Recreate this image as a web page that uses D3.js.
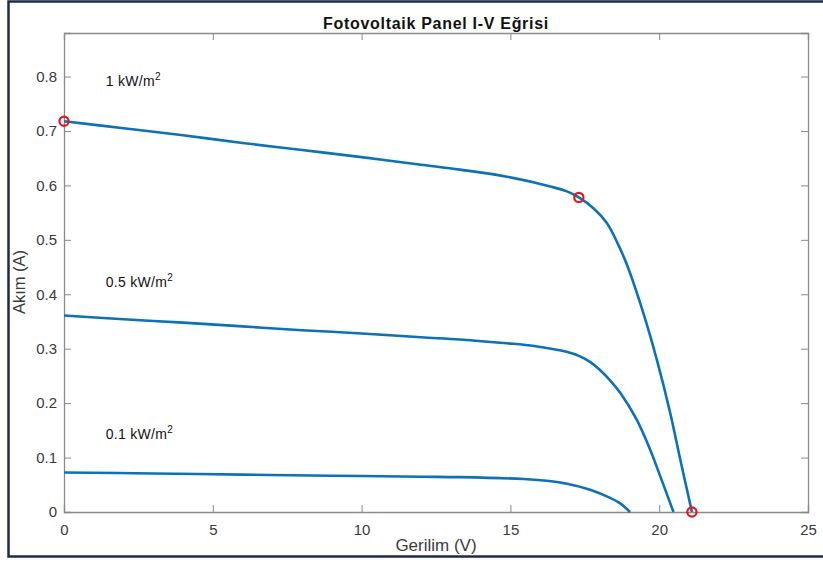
<!DOCTYPE html>
<html>
<head>
<meta charset="utf-8">
<script src="https://cdn.jsdelivr.net/npm/d3@7/dist/d3.min.js"></script>
<style>
  html, body { margin: 0; padding: 0; background: #fff; }
  svg { display: block; font-family: Arial, "Liberation Sans", Helvetica, sans-serif; }
</style>
</head>
<body>
<svg id="chart" width="823" height="562"></svg>
<script>
// I-V curves of a PV panel at three irradiance levels
const xTicks = [0, 5, 10, 15, 20, 25];
const yTicks = [0, 0.1, 0.2, 0.3, 0.4, 0.5, 0.6, 0.7, 0.8];
const yTickLabels = ["0", "0.1", "0.2", "0.3", "0.4", "0.5", "0.6", "0.7", "0.8"];

// 1 kW/m2
const v1 = [0, 2, 4, 6, 8, 10, 12, 13.3, 14.88, 16.34, 16.9, 17.3, 17.79, 18.24, 18.6, 18.91, 19.47, 19.92, 20.37, 20.71, 21.1];
const i1 = [0.718, 0.705, 0.692, 0.678, 0.665, 0.652, 0.638, 0.629, 0.616, 0.598, 0.589, 0.578, 0.558, 0.531, 0.494, 0.455, 0.365, 0.280, 0.182, 0.096, 0];
// 0.5 kW/m2
const v2 = [0, 2, 4, 6, 8, 10, 12, 13.3, 14.88, 15.8, 16.56, 17.0, 17.34, 17.7, 18.01, 18.35, 18.69, 19.24, 19.7, 20.08, 20.48];
const i2 = [0.361, 0.354, 0.348, 0.341, 0.334, 0.328, 0.321, 0.317, 0.310, 0.305, 0.298, 0.2925, 0.286, 0.275, 0.261, 0.242, 0.219, 0.170, 0.114, 0.059, 0];
// 0.1 kW/m2
const v3 = [0, 3, 6, 9, 12, 13.3, 15.44, 16.3, 16.9, 17.68, 18.35, 18.7, 19.02];
const i3 = [0.0727, 0.0707, 0.0687, 0.0667, 0.0648, 0.0640, 0.0606, 0.057, 0.052, 0.041, 0.026, 0.0155, 0];

// Isc, maximum power point and Voc of the 1 kW/m2 curve
const markV = [0, 17.3, 21.1];
const markI = [0.718, 0.578, 0];

const curveLabels = [
  { text: "1 kW/m", v: 1.4, i: 0.783 },
  { text: "0.5 kW/m", v: 1.4, i: 0.413 },
  { text: "0.1 kW/m", v: 1.4, i: 0.134 }
];

const svg = d3.select("#chart");
const W = 823, H = 562;
const m = { left: 64, right: 808, top: 33, bottom: 512 };

const x = d3.scaleLinear().domain([0, 25]).range([m.left, m.right]);
const y = d3.scaleLinear().domain([0, 0.88]).range([m.bottom, m.top]);

// figure frame
svg.append("path")
  .attr("d", `M${W + 5},1.5 H8.5 V556.5 H${W + 5}`)
  .attr("fill", "none")
  .attr("stroke", "#1d2b4a")
  .attr("stroke-width", 2.5);

const axisColor = "#8a8a8a";
const tickLen = 7;

// axes with inward ticks on all four sides
const gB = svg.append("g").attr("transform", `translate(0,${m.bottom})`)
  .call(d3.axisBottom(x).tickValues(xTicks).tickSize(-tickLen).tickPadding(12).tickFormat(d3.format("d")));
const gT = svg.append("g").attr("transform", `translate(0,${m.top})`)
  .call(d3.axisTop(x).tickValues(xTicks).tickSize(-tickLen).tickFormat(""));
const gL = svg.append("g").attr("transform", `translate(${m.left},0)`)
  .call(d3.axisLeft(y).tickValues(yTicks).tickSize(-tickLen).tickPadding(7).tickFormat((d, k) => yTickLabels[k]));
const gR = svg.append("g").attr("transform", `translate(${m.right},0)`)
  .call(d3.axisRight(y).tickValues(yTicks).tickSize(-tickLen).tickFormat(""));

[gB, gT, gL, gR].forEach(g => {
  g.select(".domain").attr("stroke", axisColor).attr("stroke-width", 1.3);
  g.selectAll(".tick line").attr("stroke", axisColor).attr("stroke-width", 1);
  g.selectAll(".tick text").attr("fill", "#3a3a3a").attr("font-size", 15).attr("font-family", "Arial, 'Liberation Sans', sans-serif");
});
// hide end ticks that sit on the box edges
gB.selectAll(".tick line").filter(d => d === 0 || d === 25).remove();
gT.selectAll(".tick line").filter(d => d === 0 || d === 25).remove();
gL.selectAll(".tick line").filter(d => d === 0).remove();
gR.selectAll(".tick line").filter(d => d === 0).remove();

// curves
const line = d3.line()
  .x(d => x(d[0]))
  .y(d => y(d[1]))
  .curve(d3.curveCatmullRom.alpha(0.5));

[[v1, i1], [v2, i2], [v3, i3]].forEach(([vs, is]) => {
  svg.append("path")
    .datum(d3.zip(vs, is))
    .attr("d", line)
    .attr("fill", "none")
    .attr("stroke", "#0c71b6")
    .attr("stroke-width", 2.6)
    .attr("stroke-linejoin", "round");
});

// markers
svg.append("g").selectAll("circle")
  .data(d3.zip(markV, markI))
  .join("circle")
  .attr("cx", d => x(d[0]))
  .attr("cy", d => y(d[1]))
  .attr("r", 4.6)
  .attr("fill", "none")
  .attr("stroke", "#e4161c")
  .attr("stroke-width", 2.2);

// irradiance labels
curveLabels.forEach(l => {
  const t = svg.append("text")
    .attr("x", x(l.v))
    .attr("y", y(l.i))
    .attr("font-size", 14)
    .attr("fill", "#111")
    .attr("letter-spacing", 0.3)
    .text(l.text);
  t.append("tspan")
    .attr("font-size", 10)
    .attr("dy", -6)
    .text("2");
});

// title
svg.append("text")
  .attr("x", (m.left + m.right) / 2)
  .attr("y", 29)
  .attr("text-anchor", "middle")
  .attr("font-size", 16)
  .attr("font-weight", "bold")
  .attr("letter-spacing", 0.7)
  .attr("fill", "#111")
  .text("Fotovoltaik Panel I-V Eğrisi");

// axis titles
svg.append("text")
  .attr("x", (m.left + m.right) / 2)
  .attr("y", 551)
  .attr("text-anchor", "middle")
  .attr("font-size", 17)
  .attr("fill", "#3a3a3a")
  .text("Gerilim (V)");

svg.append("text")
  .attr("transform", `translate(25,282) rotate(-90)`)
  .attr("text-anchor", "middle")
  .attr("font-size", 16.5)
  .attr("fill", "#3a3a3a")
  .text("Akım (A)");
</script>
</body>
</html>
